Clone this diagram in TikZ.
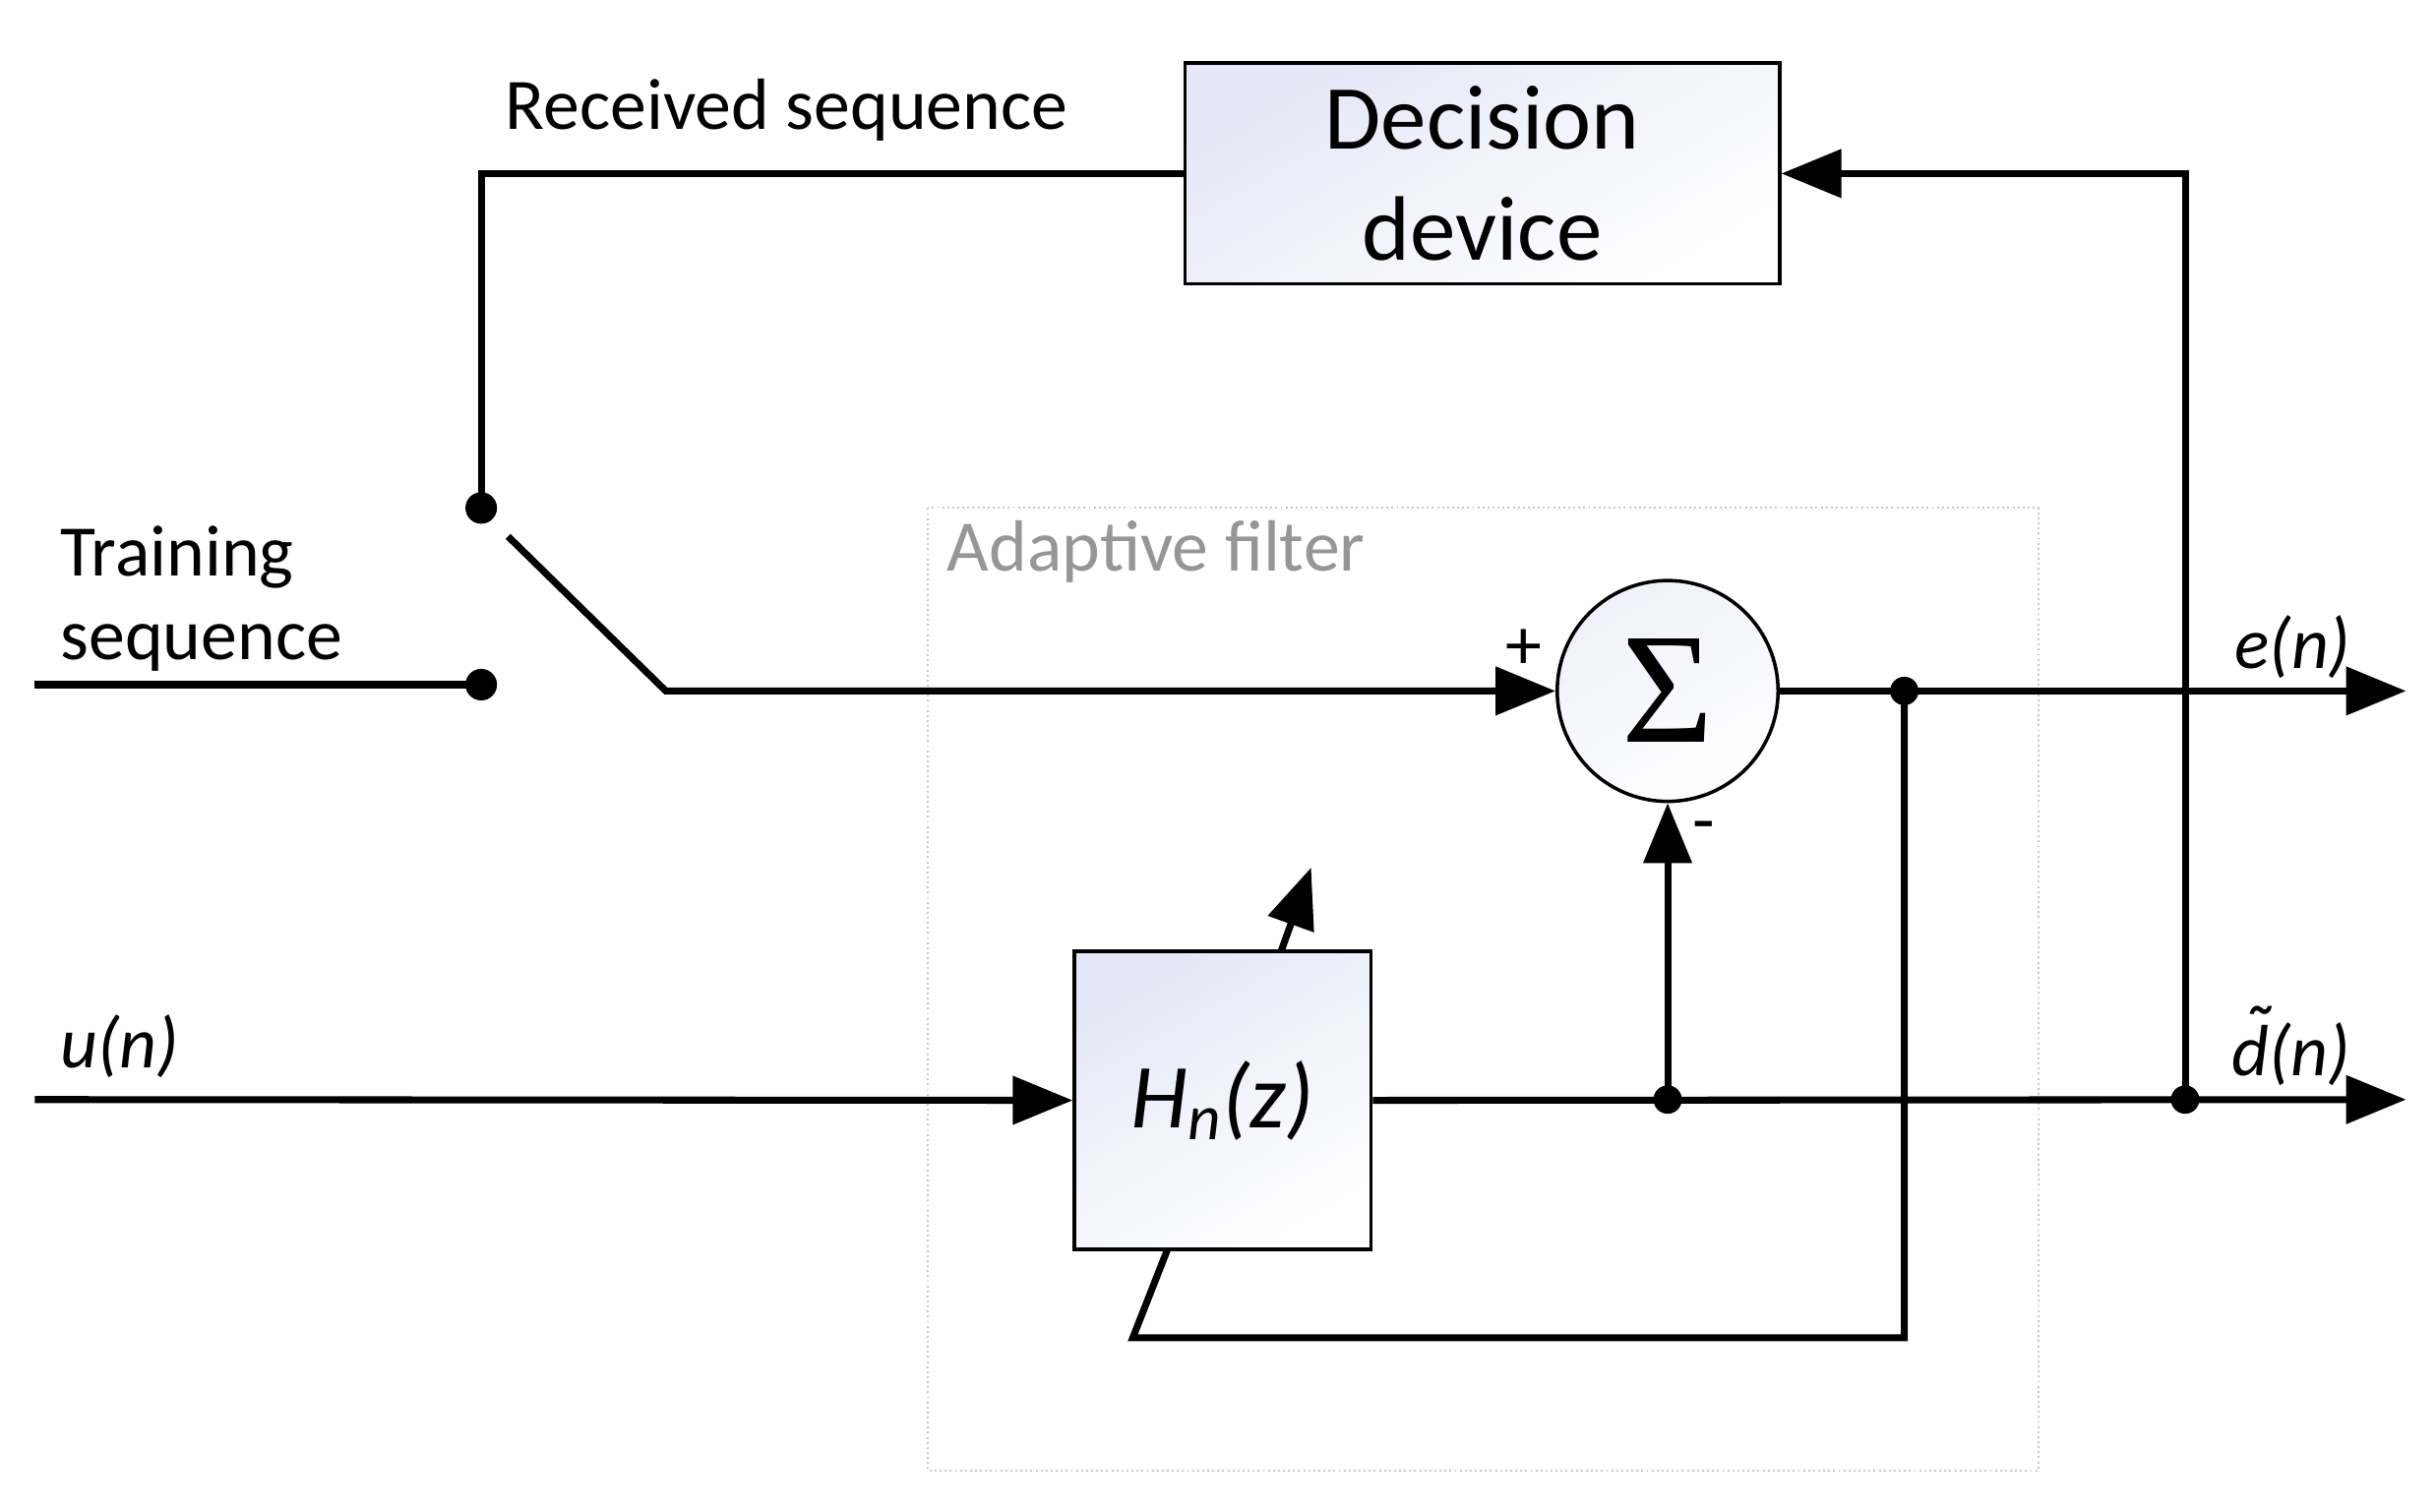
\documentclass[tikz,border=0pt]{standalone}
\usepackage{fontspec}
\setmainfont{Carlito}
\newfontfamily\sigfont{Liberation Serif}
\usetikzlibrary{arrows.meta}
\definecolor{boxtop}{RGB}{228,232,246}
\definecolor{afgray}{RGB}{200,200,200}
\definecolor{aftext}{RGB}{150,150,150}
\tikzset{
  sig/.style={line width=2.2pt, line join=miter},
  arr/.style={sig, -{Triangle[length=19pt,width=15pt]}},
  blockbox/.style={draw=black, line width=1.1pt, top color=boxtop, bottom color=white, shading angle=30, inner sep=0pt},
  junction/.style={circle, fill=black, inner sep=0pt, minimum size=9pt},
  lbl/.style={font=\fontsize{23}{27}\selectfont, inner sep=0pt},
  ilbl/.style={font=\fontsize{23}{27}\selectfont\itshape, inner sep=0pt}
}
\newcommand{\tilded}{\makebox[0pt][l]{\kern0.1em\raisebox{0.2em}{\fontsize{26}{26}\selectfont\symbol{"02DC}}}d}
\begin{document}
\begin{tikzpicture}[x=0.5pt,y=-0.5pt]
\useasboundingbox (0,0) rectangle (1544,958);
% adaptive filter frame
\draw[afgray, densely dotted, line width=0.6pt] (588,322) rectangle (1292,932);
\node[lbl, text=aftext, anchor=base west] (aflbl) at (600,362) {Adaptive filter};
% blocks
\node[blockbox, minimum width=188.5pt, minimum height=70pt, align=center,
      font=\fontsize{29}{35}\selectfont] (dec) at (939.5,110) {Decision\\device};
\node[blockbox, minimum width=94pt, minimum height=94.5pt,
      font=\fontsize{29}{35}\selectfont\itshape] (H) at (775,697.5) {H\textsubscript{n}(z)};
\node[circle, draw=black, line width=1.1pt, top color=boxtop!60!white, bottom color=white, shading angle=30,
      minimum size=70pt, inner sep=0pt] (sum) at (1057,438) {};
\node[inner sep=0pt, font=\fontsize{50}{50}\sigfont] (sigma) at (1057,438) {Σ};
% coordinates
\coordinate (rtop) at (305,110);
\coordinate (ea) at (1525,438);
\coordinate (da) at (1525,697);
\coordinate (uin) at (22,697);
\coordinate (tin) at (22,434);
\coordinate (bl1) at (322,340);
\coordinate (bl2) at (422,438);
\coordinate (fb1) at (1207,848);
\coordinate (fb2) at (718,848);
\coordinate (fb3) at (740,792);
\coordinate (ad1) at (812,603);
\coordinate (ad2) at (831,550);
\coordinate (dtop) at (1385,110);
% junctions
\node[junction, minimum size=10pt] (s1) at (305,322) {};
\node[junction, minimum size=10pt] (s2) at (305,434) {};
\node[junction] (j1) at (1207,438) {};
\node[junction] (j2) at (1057,697) {};
\node[junction] (j3) at (1385,697) {};
% connectors
\draw[sig] (dec.west) -- (rtop) -- (s1.center);
\draw[sig] (tin) -- (s2.center);
\draw[arr] (bl1) -- (bl2) -- (sum.west);
\draw[arr] (sum.east) -- (ea);
\draw[sig] (j1.center) -- (fb1) -- (fb2) -- (fb3);
\draw[arr] (ad1) -- (ad2);
\draw[arr] (uin) -- (H.west);
\draw[arr] (H.east) -- (da);
\draw[arr] (j2.center) -- (sum.south);
\draw[arr] (j3.center) -- (dtop) -- (dec.east);
% labels
\node[lbl, anchor=base west] (rs) at (320,82) {Received sequence};
\node[lbl, anchor=base west] (ts1) at (38,365) {Training};
\node[lbl, anchor=base west] (ts2) at (38,418) {sequence};
\node[lbl] (plus) at (966,412) {+};
\node[lbl] (minus) at (1080,528) {-};
\node[ilbl, anchor=base west] (en) at (1416,424) {e(n)};
\node[ilbl, anchor=base west] (dn) at (1414,682) {\tilded(n)};
\node[ilbl, anchor=base west] (un) at (38,677) {u(n)};
\end{tikzpicture}
\end{document}
